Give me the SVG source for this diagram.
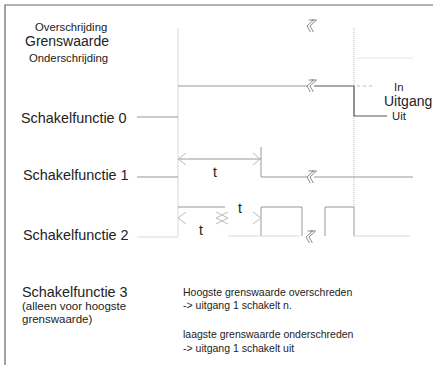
<svg xmlns="http://www.w3.org/2000/svg" width="434" height="365" viewBox="0 0 434 365">
<style>
text{font-family:"Liberation Sans",Arial,sans-serif;fill:#222}
.lbl{font-size:14.4px}
.sm{font-size:11.3px}
.note{font-size:10.5px}
.sub{font-size:11.5px}
.ln{stroke:#999;stroke-width:1;fill:none}
.fa{stroke:#d8d8d8;stroke-width:1;fill:none}
.vf{stroke:#e6e6e6;stroke-width:1;fill:none}
.dk{stroke:#555;stroke-width:1.2;fill:none}
.ah{stroke:#bbb;stroke-width:1;fill:none}
.brk{stroke:#777;stroke-width:0.8;fill:none}
</style>
<defs>
<g id="brk"><path d="M-3,-6 L2,-6 L-3,0 L2,6 M0,-6 L5,-6 L0,0 L5,6" transform="skewX(-15)"/></g>
</defs>
<rect width="434" height="365" fill="#fff"/>
<g id="frame"><path d="M5,365 V5 H433" stroke="#666" stroke-width="1.2" fill="none"/></g>
<g id="legend">
<text x="35" y="31" class="sm">Overschrijding</text>
<text x="25" y="46" style="font-size:14px">Grenswaarde</text>
<text x="29" y="62" class="sm">Onderschrijding</text>
</g>
<g id="sf0"><text x="21" y="123" class="lbl">Schakelfunctie 0</text></g>
<g id="sf1"><text x="23" y="180" class="lbl">Schakelfunctie 1</text></g>
<g id="sf2"><text x="23" y="240" class="lbl">Schakelfunctie 2</text></g>
<g id="sf3">
<text x="22" y="297" class="lbl">Schakelfunctie 3</text>
<text x="22" y="310" class="sub">(alleen voor hoogste</text>
<text x="22" y="323" class="sub">grenswaarde)</text>
</g>
<g id="notes">
<text x="183" y="296" class="note">Hoogste grenswaarde overschreden</text>
<text x="183" y="309" class="note"> -&gt; uitgang 1 schakelt n.</text>
<text x="183" y="338" class="note">laagste grenswaarde onderschreden</text>
<text x="183" y="352" class="note"> -&gt; uitgang 1 schakelt uit</text>
</g>
<g id="output">
<text x="394" y="91" class="sm">In</text>
<text x="384" y="106" style="font-size:14px">Uitgang</text>
<text x="392" y="120" class="sm">Uit</text>
</g>
<g id="connectors">
<path class="fa" d="M178,28 V236"/>
<path d="M354,28 V207" stroke="#bbb" stroke-width="1" stroke-dasharray="1,1" fill="none"/>
<path class="vf" d="M357,58 H413"/>
<path class="ln" d="M137,117 H178 M178,86 H308"/>
<path class="dk" d="M314,86 H354 V116 H387"/>
<path d="M357,86 H372" stroke="#bbb" stroke-dasharray="3,3" fill="none"/>
<path class="ln" d="M137,177 H178"/>
<path class="ln" d="M178,159 H261 M261,147 V177 H308 M314,177 H413"/>
<path class="ah" d="M186,153 L178,159 L186,165 M253,153 L260,159 L253,165"/>
<path class="fa" d="M137,237 H178"/>
<path class="ln" d="M178,207 H225 M261,236 V207 H302 V236 M325,236 V207 H354 V236"/>
<path class="fa" d="M228,236 H300 M354,236 H410"/>
<path class="ah" d="M186,212 L178,218 L186,224 M216,212 L228,218 L216,224 M228,212 L216,218 L228,224 M253,212 L261,218 L253,224"/>
<use href="#brk" x="310" y="26" class="brk"/>
<use href="#brk" x="310" y="86" class="brk"/>
<use href="#brk" x="310" y="177" class="brk"/>
<use href="#brk" x="309" y="237" class="brk"/>
</g>
<g id="tlabels">
<text x="213" y="177" style="font-size:14px">t</text>
<text x="199" y="235" style="font-size:14px">t</text>
<text x="238" y="213" style="font-size:14px">t</text>
</g>
</svg>
